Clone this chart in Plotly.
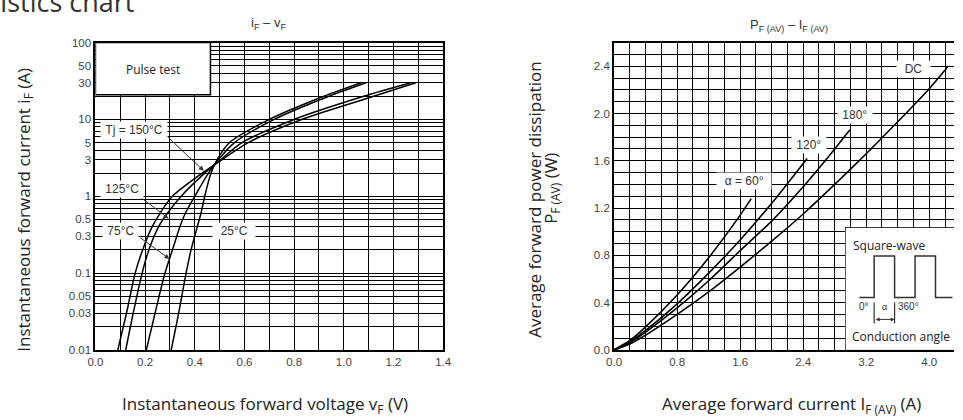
import math
import plotly.graph_objects as go

# ---------------- Left chart: iF - vF (log current) ----------------
current_A = [0.01, 0.03, 0.1, 0.2, 0.4, 0.6, 1, 2, 3, 5, 10, 20, 30]
vf_150C = [0.09, 0.125, 0.16, 0.19, 0.228, 0.26, 0.31, 0.43, 0.51, 0.615, 0.83, 1.12, 1.29]
vf_125C = [0.122, 0.152, 0.188, 0.215, 0.254, 0.29, 0.345, 0.44, 0.505, 0.59, 0.80, 1.08, 1.27]
vf_75C = [0.205, 0.24, 0.28, 0.31, 0.34, 0.362, 0.40, 0.455, 0.495, 0.56, 0.72, 0.94, 1.09]
vf_25C = [0.305, 0.335, 0.365, 0.385, 0.41, 0.425, 0.44, 0.465, 0.49, 0.54, 0.70, 0.92, 1.07]

left_y_labels = ["0.01", "0.03", "0.05", "0.1", "0.3", "0.5", "1", "3", "5", "10", "30", "50", "100"]

# ---------------- Right chart: PF(AV) - IF(AV) ----------------
dc_I = [0, 0.2, 0.4, 0.8, 1.2, 1.6, 2.0, 2.4, 2.8, 3.2, 3.6, 4.0, 4.24]
dc_P = [0, 0.05, 0.125, 0.30, 0.49, 0.70, 0.92, 1.15, 1.40, 1.66, 1.93, 2.21, 2.40]
a180_I = [0, 0.2, 0.4, 0.8, 1.2, 1.6, 2.0, 2.4, 2.8, 2.99]
a180_P = [0, 0.06, 0.15, 0.355, 0.585, 0.84, 1.09, 1.38, 1.70, 1.86]
a120_I = [0, 0.2, 0.4, 0.8, 1.2, 1.6, 2.0, 2.45]
a120_P = [0, 0.07, 0.165, 0.39, 0.65, 0.93, 1.24, 1.62]
a60_I = [0, 0.2, 0.4, 0.8, 1.2, 1.6, 1.74]
a60_P = [0, 0.08, 0.195, 0.465, 0.78, 1.14, 1.28]

# inset square-wave (phase in degrees, level 0/1)
wave_deg = [-130, 0, 0, 180, 180, 360, 360, 540, 540, 690]
wave_lvl = [0, 0, 1, 1, 0, 0, 1, 1, 0, 0]

W, H = 963, 420
def px(x):
    return x / W
def py(y):
    return (H - y) / H

DS = "Liberation Sans, Arial, sans-serif"
UI = "Open Sans, Noto Sans, sans-serif"
TXT = "#333333"

fig = go.Figure()
for v in (vf_150C, vf_125C, vf_75C, vf_25C):
    fig.add_trace(go.Scatter(x=v, y=current_A, mode="lines",
                             line=dict(color="black", width=1.5, shape="spline", smoothing=0.8),
                             xaxis="x", yaxis="y", hoverinfo="skip"))
for I, P in ((dc_I, dc_P), (a180_I, a180_P), (a120_I, a120_P), (a60_I, a60_P)):
    fig.add_trace(go.Scatter(x=I, y=P, mode="lines",
                             line=dict(color="black", width=1.6, shape="spline", smoothing=0.6),
                             xaxis="x2", yaxis="y2", hoverinfo="skip"))
fig.add_trace(go.Scatter(x=wave_deg, y=wave_lvl, mode="lines", line=dict(color="#333", width=1.5),
                         xaxis="x3", yaxis="y3", hoverinfo="skip"))
fig.add_trace(go.Scatter(x=[0, 0, None, 180, 180], y=[-0.12, -0.63, None, -0.12, -0.63], mode="lines",
                         line=dict(color="#333", width=1.2), xaxis="x3", yaxis="y3", hoverinfo="skip"))

# log grid values
grid_vals, grid_text = [], []
for e in (-2, -1, 0, 1):
    for m in range(1, 10):
        v = round(m * 10 ** e, 4)
        grid_vals.append(v)
        s = ("%g" % v)
        grid_text.append(s if s in left_y_labels else "")
grid_vals.append(100)
grid_text.append("100")

y_top = 37.7
y_bot = 354
tickfont = dict(family=DS, size=11.5, color="#444")
axcommon = dict(showgrid=True, gridcolor="black", gridwidth=1.2, showline=True, linecolor="black",
                linewidth=2, ticks="", zeroline=False, tickfont=tickfont)
minor_g = lambda d: dict(dtick=d, showgrid=True, gridcolor="black", gridwidth=1.2)

fig.update_layout(
    width=W, height=H, margin=dict(l=0, r=0, t=0, b=0),
    paper_bgcolor="white", plot_bgcolor="white", showlegend=False,
    xaxis=dict(axcommon, domain=[px(89), px(443)], range=[0, 1.4], dtick=0.2, tickformat=".1f",
               minor=minor_g(0.1), mirror=True, anchor="y"),
    yaxis=dict(axcommon, type="log", domain=[py(y_bot), py(y_top)], range=[-2, 2], tickvals=grid_vals,
               ticktext=grid_text, mirror=True, anchor="x"),
    xaxis2=dict(axcommon, domain=[px(617), 1.0], range=[0, 4.314], dtick=0.8, tickformat=".1f",
                minor=minor_g(0.2), mirror=True, anchor="y2"),
    yaxis2=dict(axcommon, domain=[py(y_bot), py(y_top)], range=[0, 2.6], dtick=0.4, tickformat=".1f",
                minor=minor_g(0.1), mirror=False, anchor="x2"),
    xaxis3=dict(domain=[px(852.7), 1.0], range=[-251, 703], visible=False, anchor="y3"),
    yaxis3=dict(domain=[py(354), py(228.3)], range=[-1.265, 1.679], visible=False, anchor="x3"),
)

# boxes (pulse-test legend box and square-wave inset box)
fig.add_shape(type="rect", xref="x", yref="y", x0=0, x1=0.463, y0=20.9, y1=100,
              fillcolor="white", line=dict(color="black", width=1.5), layer="between")
fig.add_shape(type="rect", xref="x2", yref="y2", x0=2.94, x1=4.6, y0=0, y1=1.033,
              fillcolor="white", line=dict(color="black", width=1.5), layer="between")

def ann(text, x, y, xref="paper", yref="paper", size=12, family=DS, color=TXT, bg=None, **kw):
    d = dict(text=text, x=x, y=y, xref=xref, yref=yref, showarrow=False, xanchor="center", yanchor="middle",
             font=dict(family=family, size=size, color=color))
    if bg:
        d.update(bgcolor=bg, borderpad=1)
    d.update(kw)
    fig.add_annotation(**d)

lg = math.log10
# left chart labels
ann("Pulse test", 0.23, lg(45), "x", "y", size=12, family=UI, color="#222")
ann("&nbsp;Tj = 150°C&nbsp;", 0.155, lg(7.38), "x", "y", bg="white")
ann("&nbsp;125°C&nbsp;", 0.108, lg(1.23), "x", "y", bg="white")
ann("&nbsp;75°C&nbsp;", 0.102, lg(0.349), "x", "y", bg="white")
ann("&nbsp;&nbsp;25°C&nbsp;&nbsp;", 0.558, lg(0.349), "x", "y", bg="white")
for (tx, ty, hx, hy) in ((0.287, 6.09, 0.436, 2.14), (0.182, 0.966, 0.294, 0.515), (0.175, 0.297, 0.298, 0.153)):
    fig.add_annotation(x=hx, y=lg(hy), ax=tx, ay=lg(ty), xref="x", yref="y", axref="x", ayref="y", text="",
                       showarrow=True, arrowhead=2, arrowsize=1, arrowwidth=1, arrowcolor="#333")

# right chart labels
ann("&nbsp;&nbsp;α = 60°&nbsp;&nbsp;", 1.65, 1.43, "x2", "y2", bg="white")
ann("&nbsp;120°&nbsp;", 2.47, 1.73, "x2", "y2", bg="white")
ann("&nbsp;180°&nbsp;", 3.06, 1.986, "x2", "y2", bg="white")
ann("&nbsp;&nbsp;DC&nbsp;&nbsp;", 3.80, 2.38, "x2", "y2", bg="white")

# inset texts
ann("Square-wave", 130, 1.25, "x3", "y3", size=12, family=UI, color="#222")
ann("Conduction angle", 686, -0.94, "x3", "y3", size=12, family=UI, color="#222", xanchor="right")
ann("0°", -93, -0.23, "x3", "y3", size=10)
ann("α", 88, -0.23, "x3", "y3", size=9)
ann("360°", 302, -0.23, "x3", "y3", size=10)
fig.add_annotation(x=180, y=-0.53, ax=0, ay=-0.53, xref="x3", yref="y3", axref="x3", ayref="y3", text="",
                   showarrow=True, arrowhead=2, arrowside="end+start", arrowsize=0.8, arrowwidth=1, arrowcolor="#333")

# titles
ann("i<sub>F</sub> – v<sub>F</sub>", px(265), py(18), size=13)
ann("P<sub>F (AV)</sub> – I<sub>F (AV)</sub>", px(795), py(20), size=13)
ann("Characteristics chart", px(130), py(16), size=27, family=UI, color="#333", xanchor="right", yanchor="bottom")

# axis titles
ann("Instantaneous forward current i<sub>F</sub> (A)", px(16), py(210), size=17, family=UI, color="#222", textangle=-90)
ann("Instantaneous forward voltage v<sub>F</sub> (V)", px(262), py(410), size=17, family=UI, color="#222")
ann("Average forward power dissipation", px(536), py(200), size=17, family=UI, color="#222", textangle=-90)
ann("P<sub>F (AV)</sub> (W)", px(553), py(188), size=17, family=UI, color="#222", textangle=-90)
ann("Average forward current I<sub>F (AV)</sub> (A)", px(798), py(410), size=17, family=UI, color="#222")

fig.write_html("out.html", config={"displayModeBar": False},
               post_script="document.body.style.margin='0';document.body.style.overflow='hidden';")
